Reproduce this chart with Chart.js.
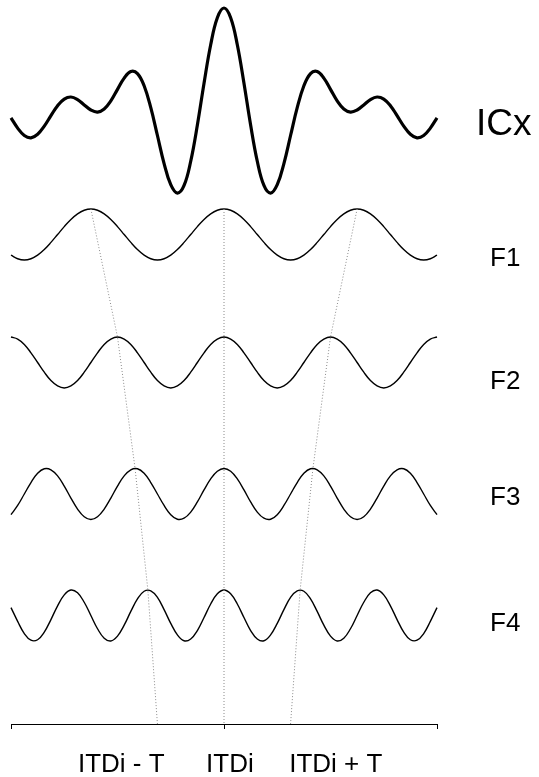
<!DOCTYPE html>
<html>
<head>
<meta charset="utf-8">
<script src="https://cdn.jsdelivr.net/npm/chart.js@4.4.0/dist/chart.umd.min.js"></script>
<style>
  html, body { margin: 0; padding: 0; background: #fff; }
  #wrap { width: 539px; height: 777px; }
</style>
</head>
<body>
<div id="wrap"><canvas id="chart" width="539" height="777"></canvas></div>
<script>
// delay axis, ITDi = 0, one step = 1/80 of the plotted span
const delays = [-0.4, -0.3875, -0.375, -0.3625, -0.35, -0.3375, -0.325, -0.3125, -0.3, -0.2875, -0.275, -0.2625, -0.25,
  -0.2375, -0.225, -0.2125, -0.2, -0.1875, -0.175, -0.1625, -0.15, -0.1375, -0.125, -0.1125, -0.1, -0.0875, -0.075,
  -0.0625, -0.05, -0.0375, -0.025, -0.0125, 0, 0.0125, 0.025, 0.0375, 0.05, 0.0625, 0.075, 0.0875, 0.1, 0.1125, 0.125,
  0.1375, 0.15, 0.1625, 0.175, 0.1875, 0.2, 0.2125, 0.225, 0.2375, 0.25, 0.2625, 0.275, 0.2875, 0.3, 0.3125, 0.325,
  0.3375, 0.35, 0.3625, 0.375, 0.3875, 0.4];

// ICx response (thick curve)
const icx = [-0.31, -0.71, -1, -1.09, -0.95, -0.63, -0.22, 0.17, 0.43, 0.51, 0.41, 0.2, 0, -0.08, 0.04, 0.36, 0.81,
  1.25, 1.51, 1.43, 0.95, 0.09, -1, -2.1, -2.93, -3.26, -2.96, -2.01, -0.59, 1.05, 2.56, 3.62, 4,
  3.62, 2.56, 1.05, -0.59, -2.01, -2.96, -3.26, -2.93, -2.1, -1, 0.09, 0.95, 1.43, 1.51, 1.25, 0.81, 0.36, 0.04,
  -0.08, 0, 0.2, 0.41, 0.51, 0.43, 0.17, -0.22, -0.63, -0.95, -1.09, -1, -0.71, -0.31];

// frequency channels
const f1 = [-0.81, -0.95, -1, -0.95, -0.81, -0.59, -0.31, 0, 0.31, 0.59, 0.81, 0.95, 1, 0.95, 0.81, 0.59, 0.31, 0,
  -0.31, -0.59, -0.81, -0.95, -1, -0.95, -0.81, -0.59, -0.31, 0, 0.31, 0.59, 0.81, 0.95, 1,
  0.95, 0.81, 0.59, 0.31, 0, -0.31, -0.59, -0.81, -0.95, -1, -0.95, -0.81, -0.59, -0.31, 0, 0.31, 0.59, 0.81, 0.95,
  1, 0.95, 0.81, 0.59, 0.31, 0, -0.31, -0.59, -0.81, -0.95, -1, -0.95, -0.81];
const f2 = [1, 0.92, 0.71, 0.38, 0, -0.38, -0.71, -0.92, -1, -0.92, -0.71, -0.38, 0, 0.38, 0.71, 0.92, 1, 0.92, 0.71,
  0.38, 0, -0.38, -0.71, -0.92, -1, -0.92, -0.71, -0.38, 0, 0.38, 0.71, 0.92, 1,
  0.92, 0.71, 0.38, 0, -0.38, -0.71, -0.92, -1, -0.92, -0.71, -0.38, 0, 0.38, 0.71, 0.92, 1, 0.92, 0.71, 0.38, 0,
  -0.38, -0.71, -0.92, -1, -0.92, -0.71, -0.38, 0, 0.38, 0.71, 0.92, 1];
const f3 = [-0.81, -0.45, 0, 0.45, 0.81, 0.99, 0.95, 0.71, 0.31, -0.16, -0.59, -0.89, -1, -0.89, -0.59, -0.16, 0.31,
  0.71, 0.95, 0.99, 0.81, 0.45, 0, -0.45, -0.81, -0.99, -0.95, -0.71, -0.31, 0.16, 0.59, 0.89, 1,
  0.89, 0.59, 0.16, -0.31, -0.71, -0.95, -0.99, -0.81, -0.45, 0, 0.45, 0.81, 0.99, 0.95, 0.71, 0.31, -0.16, -0.59,
  -0.89, -1, -0.89, -0.59, -0.16, 0.31, 0.71, 0.95, 0.99, 0.81, 0.45, 0, -0.45, -0.81];
const f4 = [0.31, -0.23, -0.71, -0.97, -0.95, -0.65, -0.16, 0.38, 0.81, 1, 0.89, 0.52, 0, -0.52, -0.89, -1, -0.81,
  -0.38, 0.16, 0.65, 0.95, 0.97, 0.71, 0.23, -0.31, -0.76, -0.99, -0.92, -0.59, -0.08, 0.45, 0.85, 1,
  0.85, 0.45, -0.08, -0.59, -0.92, -0.99, -0.76, -0.31, 0.23, 0.71, 0.97, 0.95, 0.65, 0.16, -0.38, -0.81, -1, -0.89,
  -0.52, 0, 0.52, 0.89, 1, 0.81, 0.38, -0.16, -0.65, -0.95, -0.97, -0.71, -0.23, 0.31];

// peaks next to ITDi for F1..F4, and where the guide meets the axis
const guidePeaks = [0.25, 0.2, 0.167, 0.143, 0.125];

const rowNames = ['ICx', 'F1', 'F2', 'F3', 'F4'];
const axisLabels = ['ITDi - T', 'ITDi', 'ITDi + T'];
const axisLabelAt = [-0.193, 0.011, 0.21];
const axisTicksAt = [-0.4, 0, 0.4];

// layout: row baselines in px above the axis, px per unit
const rowBase = [614, 489.5, 361.5, 230, 108.5];
const amp = 25.5;
const nameX = [476, 490, 490, 490, 490];
const nameY = [125, 259, 382, 498, 624];
const axisLabelBaseline = 772;
const FONT = '"Liberation Sans", Arial, Helvetica, sans-serif';

const series = [icx, f1, f2, f3, f4];
const toPts = (vals, row) => delays.map((d, i) => ({ x: d, y: rowBase[row] + amp * vals[i] }));

const guideLeft = guidePeaks.map((p, i) => ({ x: -p, y: i < 4 ? rowBase[i + 1] + amp : 0 }));
const guideRight = guidePeaks.map((p, i) => ({ x: p, y: i < 4 ? rowBase[i + 1] + amp : 0 }));
const guideMid = [{ x: 0, y: rowBase[1] + amp }, { x: 0, y: 0 }];

const guideStyle = {
  borderColor: '#8a8a8a', borderWidth: 1, borderDash: [1, 2], pointRadius: 0, tension: 0, fill: false, clip: false
};

const datasets = [
  Object.assign({ label: 'guide-', data: guideLeft }, guideStyle),
  Object.assign({ label: 'guide0', data: guideMid }, guideStyle),
  Object.assign({ label: 'guide+', data: guideRight }, guideStyle)
];
series.forEach((vals, r) => {
  datasets.push({
    label: rowNames[r],
    data: toPts(vals, r),
    borderColor: '#000',
    borderWidth: r === 0 ? 3.2 : 1.4,
    pointRadius: 0,
    tension: 0.4,
    fill: false,
    clip: false
  });
});

// row names on the right, delay names under the axis
const textLabels = {
  id: 'textLabels',
  afterDraw(chart) {
    const ctx = chart.ctx;
    const xs = chart.scales.x;
    ctx.save();
    ctx.fillStyle = '#000';
    ctx.textAlign = 'left';
    ctx.textBaseline = 'middle';
    rowNames.forEach((name, i) => {
      ctx.font = (i === 0 ? '37px ' : '26px ') + FONT;
      ctx.fillText(name, nameX[i], nameY[i]);
    });
    ctx.font = '26px ' + FONT;
    ctx.textAlign = 'center';
    ctx.textBaseline = 'alphabetic';
    axisLabels.forEach((txt, i) => {
      ctx.fillText(txt, xs.getPixelForValue(axisLabelAt[i]), axisLabelBaseline);
    });
    ctx.restore();
  }
};

new Chart(document.getElementById('chart'), {
  type: 'line',
  data: { datasets },
  options: {
    responsive: false,
    animation: false,
    layout: { padding: { left: 11, right: 102, top: 0, bottom: 48 } },
    plugins: { legend: { display: false }, tooltip: { enabled: false } },
    scales: {
      x: {
        type: 'linear', min: -0.4, max: 0.4,
        afterBuildTicks: s => { s.ticks = axisTicksAt.map(v => ({ value: v })); },
        border: { display: true, color: '#000', width: 1 },
        grid: { drawOnChartArea: false, drawTicks: true, tickLength: 5, color: '#000', lineWidth: 1 },
        ticks: { display: false }
      },
      y: { display: false, min: 0, max: 724 }
    }
  },
  plugins: [textLabels]
});
</script>
</body>
</html>
